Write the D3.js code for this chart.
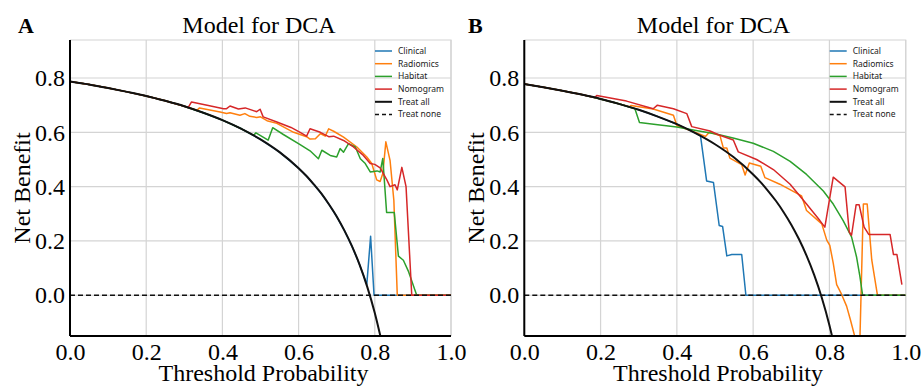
<!DOCTYPE html>
<html>
<head>
<meta charset="utf-8">
<script src="https://cdn.jsdelivr.net/npm/d3@7"></script>
<style>
  body { margin: 0; background: #fff; }
  svg { display: block; }
  .serif { font-family: "Liberation Serif", "Times New Roman", serif; fill: #000; }
  .legend-label { font-family: "Noto Sans", "Liberation Sans", sans-serif; font-size: 8.5px; fill: #222; }
</style>
</head>
<body>
<svg></svg>
<script>
const w = 921;
const h = 387;

// Data
const xTicks = [0, 0.2, 0.4, 0.6, 0.8, 1.0];
const yTicks = [0, 0.2, 0.4, 0.6, 0.8];
const modelNames = ["Clinical", "Radiomics", "Habitat", "Nomogram"];
const refNames = ["Treat all", "Treat none"];
const treatNone = [[0, 0], [1, 0]];

// panel A
const treatAllA = [[0, 0.787], [0.05, 0.776], [0.1, 0.763], [0.15, 0.749], [0.2, 0.734], [0.25, 0.716],
  [0.3, 0.696], [0.35, 0.672], [0.4, 0.645], [0.45, 0.613], [0.5, 0.574], [0.55, 0.527], [0.6, 0.468],
  [0.62, 0.440], [0.64, 0.408], [0.66, 0.374], [0.68, 0.334], [0.7, 0.290], [0.72, 0.239], [0.74, 0.181],
  [0.76, 0.113], [0.78, 0.032], [0.8, -0.065], [0.82, -0.183]];
const clinicalA = [[0.779, 0.04], [0.789, 0.217], [0.798, 0], [1.0, 0]];
const radiomicsA = [[0.333, 0.681], [0.34, 0.690], [0.394, 0.675], [0.411, 0.669], [0.42, 0.672], [0.446, 0.663],
  [0.459, 0.669], [0.472, 0.659], [0.49, 0.655], [0.5, 0.657], [0.517, 0.643], [0.543, 0.633], [0.587, 0.600],
  [0.621, 0.584], [0.63, 0.575], [0.644, 0.576], [0.657, 0.595], [0.67, 0.586], [0.679, 0.613], [0.692, 0.604],
  [0.718, 0.582], [0.753, 0.546], [0.779, 0.509], [0.792, 0.485], [0.805, 0.425], [0.814, 0.419], [0.821, 0.448],
  [0.829, 0.565], [0.84, 0.497], [0.85, 0.350], [0.859, 0], [1.0, 0]];
const habitatA = [[0.482, 0.589], [0.488, 0.598], [0.52, 0.571], [0.532, 0.617], [0.56, 0.592], [0.604, 0.555],
  [0.63, 0.532], [0.652, 0.503], [0.661, 0.534], [0.683, 0.515], [0.7, 0.509], [0.709, 0.540], [0.718, 0.527],
  [0.731, 0.558], [0.749, 0.546], [0.762, 0.503], [0.775, 0.485], [0.788, 0.454], [0.806, 0.458], [0.814, 0.454],
  [0.821, 0.504], [0.831, 0.305], [0.851, 0.305], [0.862, 0.144], [0.875, 0.129], [0.888, 0.089], [0.91, 0], [1.0, 0]];
const nomogramA = [[0.31, 0.691], [0.319, 0.712], [0.36, 0.700], [0.403, 0.687], [0.411, 0.687], [0.42, 0.697],
  [0.442, 0.686], [0.46, 0.690], [0.49, 0.676], [0.499, 0.685], [0.507, 0.657], [0.543, 0.638], [0.58, 0.618],
  [0.604, 0.600], [0.621, 0.586], [0.63, 0.613], [0.657, 0.600], [0.679, 0.584], [0.692, 0.586], [0.718, 0.570],
  [0.744, 0.546], [0.77, 0.515], [0.788, 0.485], [0.8, 0.482], [0.814, 0.469], [0.832, 0.424], [0.84, 0.400],
  [0.853, 0.407], [0.859, 0.388], [0.871, 0.471], [0.882, 0.400], [0.897, 0], [1.0, 0]];

// panel B
const treatAllB = [[0, 0.778], [0.05, 0.766], [0.1, 0.753], [0.15, 0.739], [0.2, 0.723], [0.25, 0.704],
  [0.3, 0.683], [0.35, 0.658], [0.4, 0.630], [0.45, 0.596], [0.5, 0.556], [0.55, 0.507], [0.6, 0.445],
  [0.62, 0.416], [0.64, 0.383], [0.66, 0.347], [0.68, 0.306], [0.7, 0.260], [0.72, 0.207], [0.74, 0.146],
  [0.76, 0.075], [0.78, -0.009], [0.8, -0.110], [0.82, -0.233]];
const clinicalB = [[0.462, 0.587], [0.478, 0.421], [0.496, 0.415], [0.511, 0.257], [0.52, 0.253], [0.531, 0.145],
  [0.544, 0.150], [0.57, 0.150], [0.581, 0], [1.0, 0]];
const radiomicsB = [[0.275, 0.694], [0.28, 0.699], [0.338, 0.686], [0.391, 0.663], [0.4, 0.625], [0.452, 0.598],
  [0.475, 0.585], [0.485, 0.600], [0.513, 0.588], [0.522, 0.542], [0.531, 0.542], [0.539, 0.505], [0.57, 0.481],
  [0.579, 0.443], [0.59, 0.487], [0.62, 0.475], [0.631, 0.433], [0.67, 0.409], [0.727, 0.366], [0.74, 0.312],
  [0.78, 0.263], [0.793, 0.203], [0.801, 0.184], [0.81, 0.118], [0.819, 0.039], [0.832, 0.003], [0.845, -0.04],
  [0.855, -0.09], [0.868, -0.16], [0.88, -0.16], [0.889, 0.336], [0.899, 0.336], [0.911, 0.130], [0.926, 0], [1.0, 0]];
const habitatB = [[0.29, 0.687], [0.302, 0.636], [0.35, 0.628], [0.4, 0.620], [0.45, 0.607], [0.5, 0.595],
  [0.55, 0.578], [0.6, 0.560], [0.653, 0.530], [0.697, 0.493], [0.74, 0.445], [0.784, 0.384], [0.81, 0.336],
  [0.836, 0.275], [0.858, 0.215], [0.871, 0.142], [0.88, 0.069], [0.887, 0], [1.0, 0]];
const nomogramB = [[0.185, 0.728], [0.19, 0.736], [0.268, 0.715], [0.338, 0.687], [0.349, 0.700], [0.391, 0.687],
  [0.426, 0.669], [0.439, 0.621], [0.487, 0.605], [0.509, 0.591], [0.548, 0.572], [0.561, 0.528], [0.609, 0.500],
  [0.653, 0.463], [0.697, 0.409], [0.74, 0.336], [0.775, 0.275], [0.788, 0.251], [0.81, 0.435], [0.841, 0.399],
  [0.852, 0.233], [0.858, 0.221], [0.87, 0.333], [0.878, 0.333], [0.891, 0.251], [0.903, 0.224], [0.959, 0.224],
  [0.968, 0.150], [0.977, 0.150], [0.99, 0.039]];

const colors = ["#1f77b4", "#ff7f0e", "#2ca02c", "#d62728"];

const svg = d3.select("svg")
    .attr("width", w)
    .attr("height", h);

// model curves run on top of "treat all" until they split off
function withTreatAll(model, treatAll) {
  const x0 = model[0][0];
  return treatAll.filter(d => d[0] < x0).concat(model);
}

function drawPanel(cfg) {
  const left = cfg.left, right = cfg.right, top = 40, bottom = 336;
  const x = d3.scaleLinear().domain([0, 1]).range([left, right]);
  const y = d3.scaleLinear().domain([-0.15, 0.94]).range([bottom, top]);

  const g = svg.append("g");

  g.append("clipPath").attr("id", "clip" + cfg.id)
    .append("rect")
    .attr("x", left).attr("y", top)
    .attr("width", right - left).attr("height", bottom - top);

  // grid
  g.selectAll(".vgrid")
    .data(xTicks)
    .enter()
    .append("line")
    .attr("x1", d => x(d)).attr("x2", d => x(d))
    .attr("y1", top).attr("y2", bottom)
    .attr("stroke", "#d4d4d4").attr("stroke-width", 1.2);
  g.selectAll(".hgrid")
    .data(yTicks)
    .enter()
    .append("line")
    .attr("x1", left).attr("x2", right)
    .attr("y1", d => y(d)).attr("y2", d => y(d))
    .attr("stroke", "#d4d4d4").attr("stroke-width", 1.2);

  // light top / right frame
  g.append("path")
    .attr("d", `M${left},${top}H${right}V${bottom}`)
    .attr("fill", "none").attr("stroke", "#d4d4d4").attr("stroke-width", 1.2);

  const line = d3.line().x(d => x(d[0])).y(d => y(d[1]));
  const smooth = d3.line().x(d => x(d[0])).y(d => y(d[1])).curve(d3.curveMonotoneX);

  const plot = g.append("g").attr("clip-path", `url(#clip${cfg.id})`);

  plot.selectAll(".model")
    .data(cfg.models)
    .enter()
    .append("path")
    .attr("class", "model")
    .attr("d", d => line(withTreatAll(d, cfg.treatAll)))
    .attr("fill", "none")
    .attr("stroke", (d, i) => colors[i])
    .attr("stroke-width", 1.5)
    .attr("stroke-linejoin", "round");

  plot.append("path")
    .attr("d", smooth(cfg.treatAll))
    .attr("fill", "none").attr("stroke", "#111").attr("stroke-width", 2);

  plot.append("path")
    .attr("d", line(treatNone))
    .attr("fill", "none").attr("stroke", "#111").attr("stroke-width", 1.5)
    .attr("stroke-dasharray", "5,3");

  // axes
  const xAxis = g.append("g")
    .attr("transform", `translate(0,${bottom})`)
    .call(d3.axisBottom(x).tickValues(xTicks).tickFormat(d3.format(".1f")).tickSize(0).tickPadding(7));
  const yAxis = g.append("g")
    .attr("transform", `translate(${left},0)`)
    .call(d3.axisLeft(y).tickValues(yTicks).tickFormat(d3.format(".1f")).tickSize(0).tickPadding(5));
  [xAxis, yAxis].forEach(a => {
    a.select(".domain").attr("stroke", "#000").attr("stroke-width", 2);
    a.selectAll("text")
      .attr("class", "serif")
      .attr("font-family", null)
      .style("font-size", "24px");
  });
  xAxis.select(".domain").attr("d", `M${left},0H${right}`);
  yAxis.select(".domain").attr("d", `M0,${top}V${bottom}`);

  // labels
  g.append("text")
    .attr("class", "serif")
    .attr("x", (left + right) / 2 - 1.5)
    .attr("y", 33)
    .attr("text-anchor", "middle")
    .style("font-size", "24px")
    .text("Model for DCA");
  g.append("text")
    .attr("class", "serif")
    .attr("x", cfg.letterX)
    .attr("y", 33)
    .style("font-size", "22px")
    .style("font-weight", "bold")
    .text(cfg.letter);
  g.append("text")
    .attr("class", "serif")
    .attr("x", (left + right) / 2 + 3)
    .attr("y", 381)
    .attr("text-anchor", "middle")
    .style("font-size", "24px")
    .text("Threshold Probability");
  g.append("text")
    .attr("class", "serif")
    .attr("transform", `translate(${left - 40},${(top + bottom) / 2}) rotate(-90)`)
    .attr("text-anchor", "middle")
    .style("font-size", "24px")
    .text("Net Benefit");

  // legend
  const items = modelNames.concat(refNames);
  const leg = g.append("g").attr("transform", `translate(${right - 76},51)`);
  const row = leg.selectAll(".row")
    .data(items)
    .enter()
    .append("g")
    .attr("transform", (d, i) => `translate(0,${i * 12.7})`);
  row.append("line")
    .attr("x1", 0).attr("x2", 17)
    .attr("stroke", (d, i) => i < 4 ? colors[i] : "#111")
    .attr("stroke-width", (d, i) => i === 4 ? 2 : 1.5)
    .attr("stroke-dasharray", (d, i) => i === 5 ? "4,3" : null);
  row.append("text")
    .attr("class", "legend-label")
    .attr("x", 23)
    .attr("dy", "0.35em")
    .text(d => d);
}

drawPanel({
  id: "A", letter: "A", letterX: 18, left: 70, right: 451,
  treatAll: treatAllA, models: [clinicalA, radiomicsA, habitatA, nomogramA]
});
drawPanel({
  id: "B", letter: "B", letterX: 468, left: 524.3, right: 905.7,
  treatAll: treatAllB, models: [clinicalB, radiomicsB, habitatB, nomogramB]
});
</script>
</body>
</html>
